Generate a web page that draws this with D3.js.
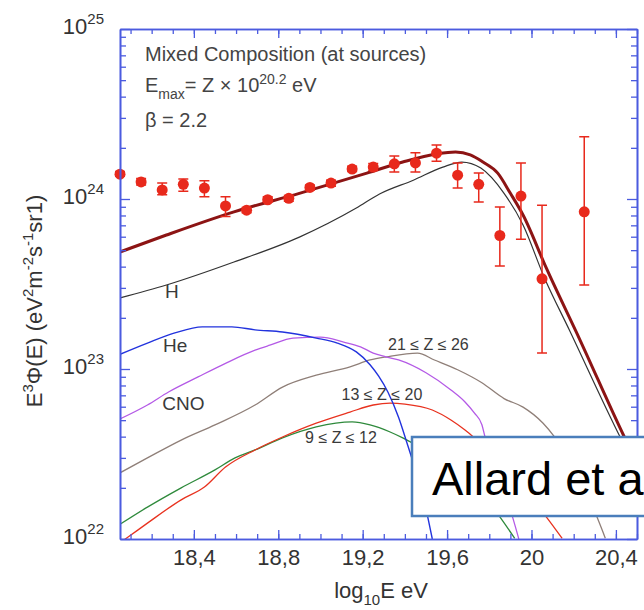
<!DOCTYPE html>
<html>
<head>
<meta charset="utf-8">
<script src="https://cdn.jsdelivr.net/npm/d3@7"></script>
<style>
  body { margin: 0; background: #fff; }
  svg text { font-family: "Liberation Sans", Arial, Helvetica, sans-serif; }
</style>
</head>
<body>
<div id="chart"></div>
<script>
// measured spectrum (log10 E, E^3 flux, error bar low / high)
const dataE = [18.05, 18.15, 18.25, 18.35, 18.45, 18.55, 18.65, 18.75, 18.85, 18.95, 19.05,
               19.15, 19.25, 19.35, 19.45, 19.55, 19.65, 19.75, 19.85, 19.95, 20.05, 20.25];
const dataFlux = [1.40e24, 1.26e24, 1.13e24, 1.22e24, 1.16e24, 9.1e23, 8.6e23, 9.9e23, 1.01e24, 1.17e24, 1.24e24,
                  1.50e24, 1.54e24, 1.61e24, 1.63e24, 1.86e24, 1.38e24, 1.22e24, 6.1e23, 1.04e24, 3.39e23, 8.4e23];
const dataLo = [1.36e24, 1.21e24, 1.06e24, 1.11e24, 1.03e24, 7.9e23, 8.3e23, 9.6e23, 9.7e23, 1.13e24, 1.19e24,
                1.45e24, 1.47e24, 1.44e24, 1.44e24, 1.67e24, 1.16e24, 9.6e23, 4.03e23, 5.8e23, 1.24e23, 3.12e23];
const dataHi = [1.45e24, 1.32e24, 1.24e24, 1.31e24, 1.28e24, 1.03e24, 8.9e23, 1.03e24, 1.05e24, 1.21e24, 1.29e24,
                1.56e24, 1.62e24, 1.79e24, 1.87e24, 2.08e24, 1.63e24, 1.42e24, 8.97e23, 1.63e24, 9.2e23, 2.32e24];

// model curves
const totalE = [18.05, 18.27, 18.59, 18.90, 19.22, 19.39, 19.55, 19.64, 19.71, 19.77, 19.84, 19.90, 19.96, 20.07, 20.23, 20.44, 20.5];
const totalF = [4.88e23, 6.14e23, 8.4e23, 1.08e24, 1.42e24, 1.65e24, 1.84e24, 1.89e24, 1.82e24, 1.65e24, 1.42e24, 1.08e24, 8.05e23, 3.93e23, 1.48e23, 3.98e22, 2.8e22];

const hE = [18.05, 18.27, 18.59, 18.90, 19.17, 19.28, 19.44, 19.58, 19.67, 19.76, 19.87, 19.96, 20.06, 20.18, 20.42, 20.5];
const hF = [2.62e23, 3.12e23, 4.26e23, 5.97e23, 8.85e23, 1.07e24, 1.29e24, 1.54e24, 1.65e24, 1.52e24, 1.08e24, 7.03e23, 3.47e23, 1.69e23, 3.98e22, 2.55e22];

const heE = [18.05, 18.18, 18.31, 18.44, 18.58, 18.69, 18.82, 18.98, 19.08, 19.17, 19.235, 19.275, 19.32, 19.37, 19.41, 19.45, 19.49, 19.53];
const heF = [1.22e23, 1.42e23, 1.63e23, 1.77e23, 1.77e23, 1.70e23, 1.65e23, 1.52e23, 1.42e23, 1.26e23, 1.06e23, 9.1e22, 7.3e22, 5.2e22, 3.67e22, 2.55e22, 1.70e22, 1.0e22];

const cnoE = [18.05, 18.18, 18.28, 18.42, 18.55, 18.69, 18.76, 18.87, 19.0, 19.11, 19.19, 19.25, 19.31, 19.37, 19.50, 19.62, 19.685, 19.73, 19.765, 19.78, 19.85, 19.91, 19.94];
const cnoF = [5.08e22, 6.14e22, 7.32e22, 8.98e22, 1.08e23, 1.29e23, 1.38e23, 1.52e23, 1.54e23, 1.44e23, 1.35e23, 1.24e23, 1.18e23, 1.13e23, 9.5e22, 7.5e22, 6.4e22, 5.5e22, 4.7e22, 3.98e22, 2.2e22, 1.35e22, 1.0e22];

const z21E = [18.05, 18.18, 18.34, 18.5, 18.69, 18.82, 18.98, 19.14, 19.235, 19.315, 19.46, 19.54, 19.65, 19.765, 19.87, 19.96, 20.055, 20.11, 20.31, 20.35];
const z21F = [2.45e22, 3.0e22, 3.82e22, 4.69e22, 6.14e22, 7.83e22, 9.2e22, 1.03e23, 1.13e23, 1.18e23, 1.24e23, 1.13e23, 9.9e22, 8.3e22, 6.7e22, 5.97e22, 4.8e22, 3.98e22, 1.35e22, 1.01e22];

const z13E = [18.05, 18.09, 18.18, 18.34, 18.45, 18.55, 18.69, 18.82, 18.98, 19.14, 19.25, 19.33, 19.40, 19.53, 19.62, 19.685, 19.73, 20.07, 20.145];
const z13F = [9.5e21, 1.03e22, 1.24e22, 1.70e22, 2.02e22, 2.65e22, 3.34e22, 3.98e22, 4.8e22, 5.58e22, 6.14e22, 6.3e22, 6.22e22, 5.74e22, 5.0e22, 4.38e22, 3.93e22, 1.35e22, 1.01e22];

const z9E = [18.05, 18.18, 18.34, 18.5, 18.595, 18.69, 18.82, 18.98, 19.15, 19.235, 19.33, 19.39, 19.85, 19.92];
const z9F = [1.22e22, 1.54e22, 2.0e22, 2.55e22, 3.0e22, 3.34e22, 3.93e22, 4.56e22, 4.88e22, 4.69e22, 4.26e22, 3.93e22, 1.35e22, 1.01e22];

// ticks
const xMajor = [18.4, 18.8, 19.2, 19.6, 20.0, 20.4];
const yDecades = [22, 23, 24, 25];

const width = 644, height = 610;
const plot = {left: 120, right: 637, top: 29, bottom: 539};
const axisColor = "#4b5bdf";

const x = d3.scaleLinear().domain([18.05, 20.5]).range([plot.left, plot.right]);
const y = d3.scaleLog().domain([1e22, 1e25]).range([plot.bottom, plot.top]);

const svg = d3.select("#chart").append("svg")
    .attr("width", width)
    .attr("height", height);

svg.append("clipPath").attr("id", "clip")
  .append("rect")
    .attr("x", plot.left).attr("y", plot.top)
    .attr("width", plot.right - plot.left).attr("height", plot.bottom - plot.top);

// model curves
const curves = [
  {e: z9E, f: z9F, color: "#2f8a3c", w: 1.3},
  {e: z13E, f: z13F, color: "#e8321f", w: 1.3},
  {e: z21E, f: z21F, color: "#8f7f78", w: 1.3},
  {e: cnoE, f: cnoF, color: "#b45ae6", w: 1.3},
  {e: heE, f: heF, color: "#2233dd", w: 1.4},
  {e: hE, f: hF, color: "#333333", w: 1.2},
  {e: totalE, f: totalF, color: "#8c1414", w: 3}
];

const line = d3.line()
    .x(d => x(d[0]))
    .y(d => y(d[1]))
    .curve(d3.curveMonotoneX);

const curveG = svg.append("g").attr("clip-path", "url(#clip)");
curves.forEach(c => {
  curveG.append("path")
      .attr("d", line(c.e.map((e, i) => [e, c.f[i]])))
      .attr("fill", "none")
      .attr("stroke", c.color)
      .attr("stroke-width", c.w)
      .attr("stroke-linejoin", "round");
});

// curve labels
const curveLabels = [
  {t: "H", e: 18.263, f: 2.62e23, size: 19},
  {t: "He", e: 18.254, f: 1.26e23, size: 19},
  {t: "CNO", e: 18.25, f: 5.74e22, size: 19},
  {t: "21 ≤ Z ≤ 26", e: 19.32, f: 1.29e23, size: 16},
  {t: "13 ≤ Z ≤ 20", e: 19.10, f: 6.58e22, size: 16},
  {t: "9 ≤ Z ≤ 12", e: 18.927, f: 3.67e22, size: 16}
];
svg.append("g").selectAll("text")
  .data(curveLabels)
  .enter().append("text")
    .attr("x", d => x(d.e))
    .attr("y", d => y(d.f))
    .attr("font-size", d => d.size)
    .attr("fill", "#3a3a3a")
    .text(d => d.t);

// data points
const pts = dataE.map((e, i) => ({e: e, f: dataFlux[i], lo: dataLo[i], hi: dataHi[i]}));
const red = "#e8291c";
const ptG = svg.append("g");
ptG.selectAll(".err")
  .data(pts)
  .enter().append("path")
    .attr("class", "err")
    .attr("d", d => {
      const cx = x(d.e), y0 = y(d.lo), y1 = y(d.hi);
      return "M" + cx + "," + y0 + "V" + y1 +
             "M" + (cx - 5) + "," + y0 + "H" + (cx + 5) +
             "M" + (cx - 5) + "," + y1 + "H" + (cx + 5);
    })
    .attr("stroke", red)
    .attr("stroke-width", 1.5)
    .attr("fill", "none");
ptG.selectAll("circle")
  .data(pts)
  .enter().append("circle")
    .attr("cx", d => x(d.e))
    .attr("cy", d => y(d.f))
    .attr("r", 5.5)
    .attr("fill", red);

// axes frame with inward ticks
const xMinor = d3.range(181, 206).map(d => d / 10);
const yMinor = [];
yDecades.slice(0, -1).forEach(k => { for (let m = 2; m <= 9; m++) yMinor.push(m * Math.pow(10, k)); });
const yMajorVals = yDecades.map(k => Math.pow(10, k));

function styleAxis(g) {
  g.selectAll("path.domain").attr("stroke", axisColor).attr("stroke-width", 1.6);
  g.selectAll(".tick line").attr("stroke", axisColor).attr("stroke-width", 1.3);
  g.selectAll(".tick text").attr("fill", "#333").attr("font-size", 22)
    .attr("font-family", "Liberation Sans, Arial, sans-serif");
}

const fmt = d => String(+d.toFixed(1)).replace(".", ",");

svg.append("g").attr("transform", "translate(0," + plot.bottom + ")")
  .call(d3.axisBottom(x).tickValues(xMinor).tickSize(-5).tickSizeOuter(0).tickFormat(""))
  .call(styleAxis);
svg.append("g").attr("transform", "translate(0," + plot.bottom + ")")
  .call(d3.axisBottom(x).tickValues(xMajor).tickSize(-9).tickSizeOuter(0).tickPadding(10).tickFormat(fmt))
  .call(styleAxis);
svg.append("g").attr("transform", "translate(0," + plot.top + ")")
  .call(d3.axisTop(x).tickValues(xMinor).tickSize(-5).tickSizeOuter(0).tickFormat(""))
  .call(styleAxis);
svg.append("g").attr("transform", "translate(0," + plot.top + ")")
  .call(d3.axisTop(x).tickValues(xMajor).tickSize(-9).tickSizeOuter(0).tickFormat(""))
  .call(styleAxis);

svg.append("g").attr("transform", "translate(" + plot.left + ",0)")
  .call(d3.axisLeft(y).tickValues(yMinor).tickSize(-6).tickSizeOuter(0).tickFormat(""))
  .call(styleAxis);
svg.append("g").attr("transform", "translate(" + plot.left + ",0)")
  .call(d3.axisLeft(y).tickValues(yMajorVals).tickSize(-10).tickSizeOuter(0).tickFormat(""))
  .call(styleAxis);
svg.append("g").attr("transform", "translate(" + plot.right + ",0)")
  .call(d3.axisRight(y).tickValues(yMinor).tickSize(-6).tickSizeOuter(0).tickFormat(""))
  .call(styleAxis);
svg.append("g").attr("transform", "translate(" + plot.right + ",0)")
  .call(d3.axisRight(y).tickValues(yMajorVals).tickSize(-10).tickSizeOuter(0).tickFormat(""))
  .call(styleAxis);

// y tick labels 10^k
yDecades.forEach(k => {
  const t = svg.append("text")
      .attr("x", 104)
      .attr("y", y(Math.pow(10, k)) + 5)
      .attr("text-anchor", "end")
      .attr("fill", "#333")
      .attr("font-size", 22);
  t.append("tspan").text("10");
  t.append("tspan").attr("dy", -10).attr("font-size", 15).text(k);
});

// axis titles
const xt = svg.append("text")
    .attr("x", 381).attr("y", 598)
    .attr("text-anchor", "middle")
    .attr("fill", "#333")
    .attr("font-size", 22);
xt.append("tspan").text("log");
xt.append("tspan").attr("dy", 7).attr("font-size", 15).text("10");
xt.append("tspan").attr("dy", -7).text("E eV");

const yt = svg.append("text")
    .attr("transform", "translate(42,301) rotate(-90)")
    .attr("text-anchor", "middle")
    .attr("fill", "#333")
    .attr("font-size", 22);
[["E", 0], ["3", 1], ["Φ(E) (eV", 0], ["2", 1], ["m", 0], ["-2", 1], ["s", 0], ["-1", 1], ["sr1)", 0]]
  .forEach((p, i, arr) => {
    const prevSup = i > 0 && arr[i - 1][1] === 1;
    const ts = yt.append("tspan").text(p[0]);
    if (p[1] === 1) ts.attr("dy", -9).attr("font-size", 15);
    else if (prevSup) ts.attr("dy", 9);
  });

// annotation block
const note = svg.append("g").attr("fill", "#444").attr("font-size", 20);
note.append("text").attr("x", 145).attr("y", 61).text("Mixed Composition (at sources)");
const em = note.append("text").attr("x", 145).attr("y", 92);
em.append("tspan").text("E");
em.append("tspan").attr("dy", 7).attr("font-size", 14).text("max");
em.append("tspan").attr("dy", -7).text("= Z × 10");
em.append("tspan").attr("dy", -8).attr("font-size", 14).text("20.2");
em.append("tspan").attr("dy", 8).text(" eV");
note.append("text").attr("x", 145).attr("y", 127).text("β = 2.2");

// citation box (runs off the right edge, as in the source slide)
svg.append("rect")
    .attr("x", 412).attr("y", 437)
    .attr("width", 280).attr("height", 79)
    .attr("fill", "#fff")
    .attr("stroke", "#4a7ebb")
    .attr("stroke-width", 2.5);
svg.append("text")
    .attr("x", 432).attr("y", 495)
    .attr("font-size", 47)
    .attr("fill", "#000")
    .text("Allard et a");
</script>
</body>
</html>
